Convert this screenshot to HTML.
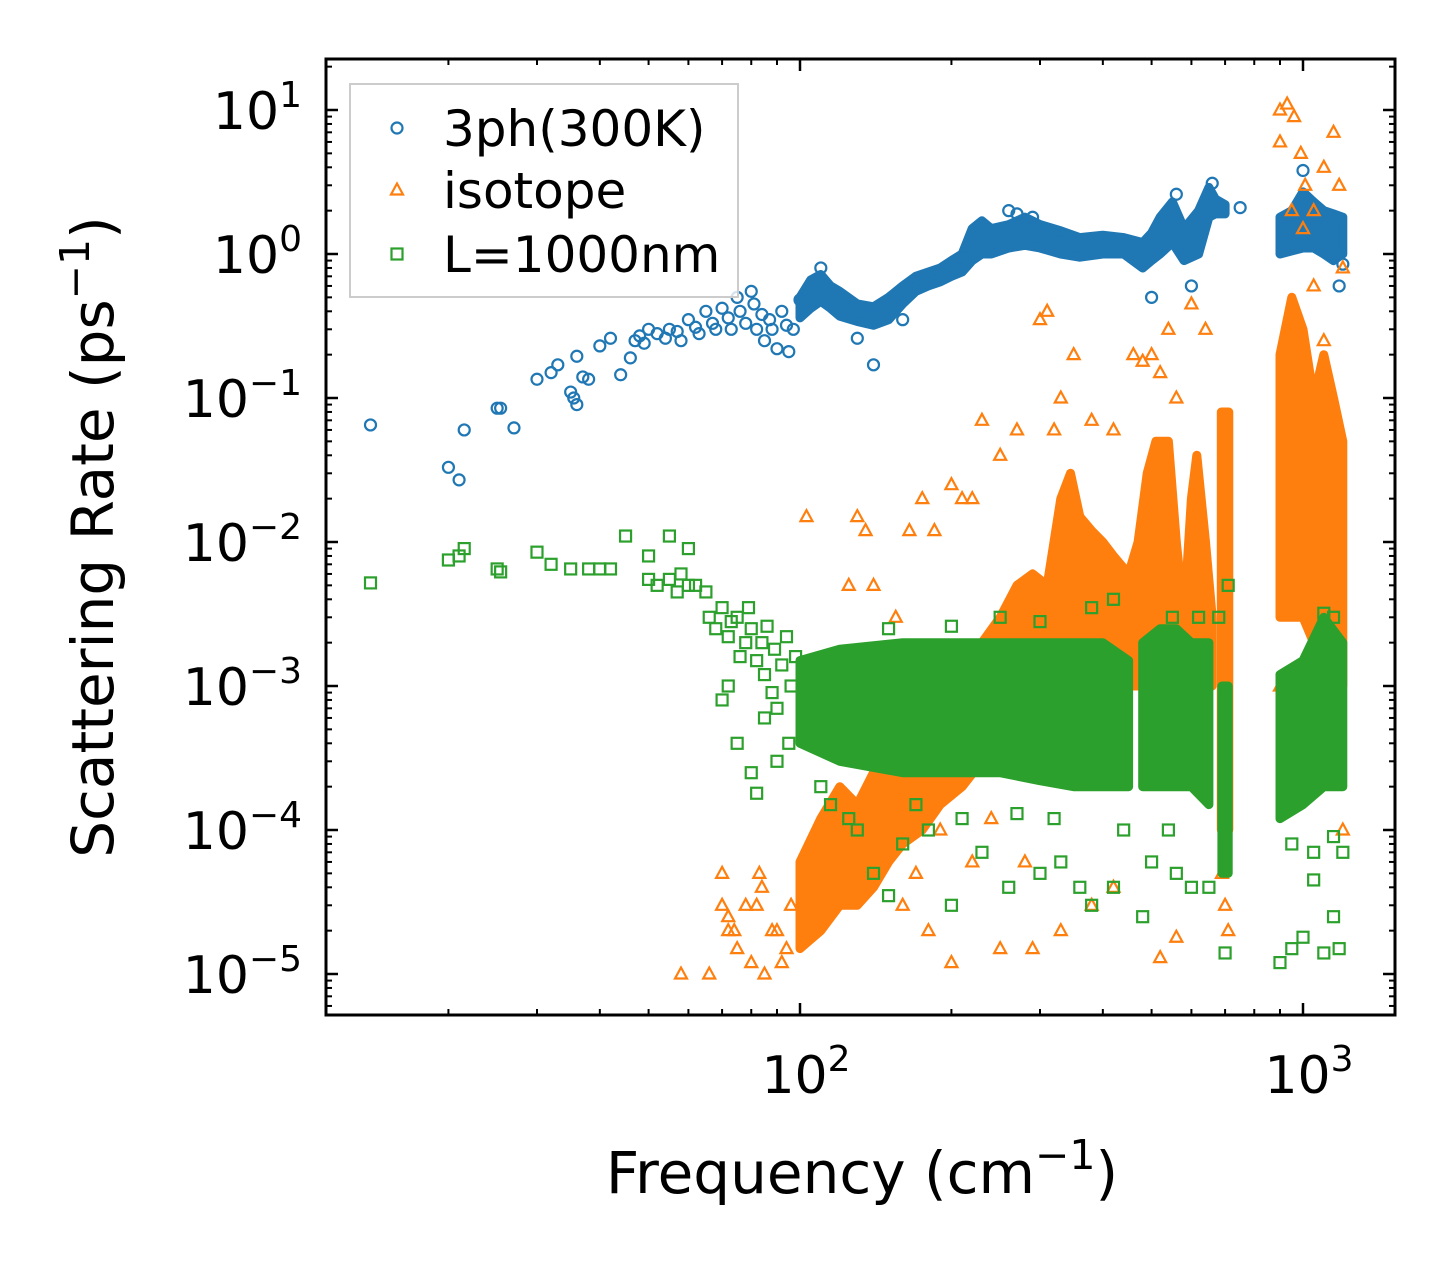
<!DOCTYPE html>
<html><head><meta charset="utf-8"><style>
html,body{margin:0;padding:0;background:#fff}
svg{display:block;font-family:"DejaVu Sans","Liberation Sans",sans-serif}
</style></head><body>
<svg id="chart" width="1455" height="1265" viewBox="0 0 1455 1265" xmlns="http://www.w3.org/2000/svg">
<rect width="1455" height="1265" fill="#fff"/>
<g id="bands"></g>
<g id="axes"></g>
<g id="legend"></g>
</svg>
<script>
const xTickPowers=[2,3];
const yTickPowers=[1,0,-1,-2,-3,-4,-5];
const blueBands=[[[100,0.36,0.5],[105,0.42,0.66],[110,0.47,0.72],[115,0.42,0.6],[120,0.37,0.55],[130,0.34,0.45],[140,0.32,0.43],[150,0.35,0.5],[160,0.45,0.6],[170,0.55,0.7],[180,0.6,0.75],[190,0.64,0.8],[200,0.7,0.9],[210,0.75,1.0],[220,0.9,1.5],[230,1.0,1.7],[240,1.0,1.5],[260,1.1,1.6],[280,1.15,1.8],[300,1.1,1.6],[330,1.0,1.45],[360,0.95,1.3],[400,1.0,1.35],[440,1.0,1.3],[480,0.8,1.2],[500,0.9,1.4],[520,1.0,1.8],[550,1.2,2.3],[580,0.9,1.5],[620,1.0,2.0],[650,1.8,2.9],[670,1.9,2.4],[700,1.9,2.2]],
[[900,1.0,1.8],[950,1.05,2.0],[1000,1.1,2.7],[1050,1.1,2.3],[1100,1.0,2.0],[1150,0.9,1.9],[1200,1.0,1.8]]];
const orangeBands=[[[100,1.5e-5,6e-5],[110,2e-5,1.2e-4],[120,3e-5,2e-4],[130,3e-5,1.5e-4],[140,4e-5,2.5e-4],[150,6e-5,3e-4],[160,8e-5,5e-4],[175,1e-4,8e-4],[190,1.5e-4,1e-3],[210,2e-4,1.5e-3],[230,3e-4,2e-3],[250,5e-4,3e-3],[270,8e-4,5e-3],[290,1e-3,6e-3],[310,1e-3,5e-3],[330,1e-3,2e-2],[345,1e-3,3e-2],[360,1e-3,1.5e-2],[380,1e-3,1.2e-2],[400,1e-3,1e-2],[420,1e-3,8e-3],[450,1e-3,6e-3],[470,1e-3,1e-2],[490,1e-3,3e-2],[510,1e-3,5e-2],[540,1e-3,5e-2],[560,1e-3,1e-2],[580,1e-3,3e-3],[600,1e-3,2e-2],[615,1e-3,4e-2],[640,1e-3,1e-2],[660,1e-3,3e-3]],
[[688,1e-4,8e-2],[712,1e-4,8e-2]],
[[900,3e-3,0.2],[950,3e-3,0.5],[1000,3e-3,0.3],[1050,2e-3,0.1],[1100,2e-3,0.2],[1150,1e-3,0.1],[1200,1e-3,0.05]]];
const greenBands=[[[100,4e-4,1.5e-3],[120,3e-4,1.8e-3],[160,2.5e-4,2e-3],[200,2.5e-4,2e-3],[250,2.5e-4,2e-3],[300,2.2e-4,2e-3],[350,2e-4,2e-3],[400,2e-4,2e-3],[450,2e-4,1.5e-3]],
[[480,2e-4,2e-3],[520,2e-4,2.5e-3],[560,2e-4,2.5e-3],[600,2e-4,2e-3],[650,1.5e-4,2e-3]],
[[690,5e-5,1e-3],[710,5e-5,1e-3]],
[[900,1.2e-4,1.2e-3],[1000,1.5e-4,1.5e-3],[1100,2e-4,3e-3],[1200,2e-4,2e-3]]];
const bluePts=[[14,0.065],[20,0.033],[21,0.027],[21.5,0.06],[25,0.085],[25.4,0.085],[27,0.062],[30,0.135],[32,0.15],[33,0.17],[35,0.11],[35.5,0.1],[36,0.09],[36,0.195],[37,0.14],[38,0.135],[40,0.23],[42,0.26],[44,0.145],[46,0.19],[47,0.25],[48,0.27],[49,0.24],[50,0.3],[52,0.28],[54,0.26],[55,0.3],[57,0.29],[58,0.25],[60,0.35],[62,0.31],[63,0.28],[65,0.4],[67,0.33],[68,0.3],[70,0.42],[72,0.36],[73,0.3],[75,0.5],[76,0.4],[78,0.33],[80,0.55],[81,0.45],[82,0.3],[84,0.38],[85,0.25],[87,0.35],[88,0.3],[90,0.22],[92,0.4],[94,0.32],[95,0.21],[97,0.3],[100,0.48],[110,0.8],[130,0.26],[140,0.17],[160,0.35],[210,0.95],[260,2.0],[270,1.9],[290,1.8],[500,0.5],[560,2.6],[600,0.6],[660,3.1],[750,2.1],[1000,3.8],[1180,0.6],[1200,0.85]];
const orangePts=[[58,1e-5],[66,1e-5],[70,5e-5],[72,2e-5],[75,1.5e-5],[78,3e-5],[80,1.2e-5],[83,5e-5],[85,1e-5],[88,2e-5],[92,1.2e-5],[96,3e-5],[70,3e-5],[72,2.5e-5],[74,2e-5],[82,3e-5],[84,4e-5],[90,2e-5],[94,1.5e-5],[103,1.5e-2],[125,5e-3],[130,1.5e-2],[135,1.2e-2],[140,5e-3],[155,3e-3],[165,1.2e-2],[175,2e-2],[185,1.2e-2],[200,2.5e-2],[210,2e-2],[220,2e-2],[230,7e-2],[250,4e-2],[270,6e-2],[300,0.35],[310,0.4],[320,6e-2],[330,0.1],[350,0.2],[380,7e-2],[420,6e-2],[460,0.2],[480,0.18],[500,0.2],[520,0.15],[540,0.3],[560,0.1],[600,0.45],[640,0.3],[690,5e-5],[700,3e-5],[710,2e-5],[560,1.8e-5],[520,1.3e-5],[420,4e-5],[380,3e-5],[330,2e-5],[290,1.5e-5],[250,1.5e-5],[200,1.2e-5],[180,2e-5],[160,3e-5],[170,5e-5],[190,1e-4],[220,6e-5],[240,1.2e-4],[280,6e-5],[900,10],[930,11],[960,9],[990,5],[1010,3],[1050,2],[1100,4],[1150,7],[1180,3],[1200,0.8],[1050,0.6],[1100,0.25],[900,6],[950,2],[1000,1.5],[1120,1e-2],[1180,5e-3],[1200,1e-4],[950,2e-4],[1050,3e-4],[900,1e-3]];
const greenPts=[[14,5.2e-3],[20,7.5e-3],[21,8e-3],[21.5,9e-3],[25,6.5e-3],[25.4,6.2e-3],[30,8.5e-3],[32,7e-3],[35,6.5e-3],[38,6.5e-3],[40,6.5e-3],[42,6.5e-3],[45,1.1e-2],[50,8e-3],[55,1.1e-2],[60,9e-3],[58,6e-3],[50,5.5e-3],[52,5e-3],[55,5.5e-3],[57,4.5e-3],[60,5e-3],[62,5e-3],[65,4.5e-3],[66,3e-3],[68,2.5e-3],[70,3.5e-3],[72,2.2e-3],[73,2.8e-3],[75,3e-3],[76,1.6e-3],[78,2e-3],[79,3.5e-3],[80,2.5e-3],[82,1.5e-3],[84,2e-3],[85,1.2e-3],[86,2.6e-3],[88,9e-4],[89,1.8e-3],[90,7e-4],[92,1.4e-3],[94,2.2e-3],[96,1e-3],[98,1.6e-3],[70,8e-4],[72,1e-3],[75,4e-4],[80,2.5e-4],[82,1.8e-4],[85,6e-4],[90,3e-4],[95,4e-4],[110,2e-4],[115,1.5e-4],[125,1.2e-4],[130,1e-4],[140,5e-5],[150,3.5e-5],[160,8e-5],[170,1.5e-4],[180,1e-4],[200,3e-5],[210,1.2e-4],[230,7e-5],[260,4e-5],[270,1.3e-4],[300,5e-5],[320,1.2e-4],[330,6e-5],[360,4e-5],[380,3e-5],[420,4e-5],[440,1e-4],[480,2.5e-5],[500,6e-5],[540,1e-4],[560,5e-5],[600,4e-5],[650,4e-5],[700,1.4e-5],[710,5e-3],[680,3e-3],[620,3e-3],[550,3e-3],[380,3.5e-3],[420,4e-3],[250,3e-3],[300,2.8e-3],[200,2.6e-3],[150,2.5e-3],[900,1.2e-5],[950,1.5e-5],[1000,1.8e-5],[1050,4.5e-5],[1100,1.4e-5],[1150,2.5e-5],[1180,1.5e-5],[1200,7e-5],[1150,3e-3],[1100,3.2e-3],[950,8e-5],[1050,7e-5],[1150,9e-5]];

const NS="http://www.w3.org/2000/svg";
const L=326,R=1395,T=59,B=1015;
function X(f){return 800+(Math.log10(f)-2)*503;}
function Y(v){return 254-Math.log10(v)*144;}
function mk(tag,attrs,parent){const e=document.createElementNS(NS,tag);for(const k in attrs)e.setAttribute(k,attrs[k]);parent.appendChild(e);return e;}
const C={blue:"#1f77b4",orange:"#ff7f0e",green:"#2ca02c"};
const bandsG=document.getElementById('bands'),axesG=document.getElementById('axes'),legG=document.getElementById('legend');

function drawBands(bands,color,name,parent){
  bands.forEach(seg=>{
    const up=seg.map(d=>X(d[0]).toFixed(1)+","+Y(d[2]).toFixed(1));
    const lo=seg.slice().reverse().map(d=>X(d[0]).toFixed(1)+","+Y(d[1]).toFixed(1));
    const p=mk('polygon',{points:up.concat(lo).join(" "),fill:color,stroke:color,'stroke-width':9,'stroke-linejoin':'round'},parent);
    
    
  });
}
function marker(type,x,y,color,parent){
  let e;
  if(type==='o'){e=mk('circle',{cx:x,cy:y,r:5.5,fill:'none',stroke:color,'stroke-width':2.2},parent);}
  else if(type==='s'){e=mk('rect',{x:x-5.5,y:y-5.5,width:11,height:11,fill:'none',stroke:color,'stroke-width':2.2},parent);}
  else {e=mk('polygon',{points:`${x},${y-6.5} ${x-6},${y+4.5} ${x+6},${y+4.5}`,fill:'none',stroke:color,'stroke-width':2.2},parent);}
  return e;
}
function drawPts(pts,type,color,name,parent){
  pts.forEach(d=>{
    const e=marker(type,X(d[0]),Y(d[1]),color,parent);
    
    
  });
}
const gB=mk('g',{},bandsG);
drawBands(blueBands,C.blue,'3ph-cluster',gB);
drawPts(bluePts,'o',C.blue,'3ph-point',gB);
const gO=mk('g',{},bandsG);
drawBands(orangeBands,C.orange,'isotope-cluster',gO);
drawPts(orangePts,'^',C.orange,'isotope-point',gO);
const gG=mk('g',{},bandsG);
drawBands(greenBands,C.green,'boundary-cluster',gG);
drawPts(greenPts,'s',C.green,'boundary-point',gG);

const fr=mk('rect',{x:L,y:T,width:R-L,height:B-T,fill:'none',stroke:'#000','stroke-width':3},axesG);

function tickLine(x1,y1,x2,y2,w){return mk('line',{x1,y1,x2,y2,stroke:'#000','stroke-width':w},axesG);}
for(let p=1;p<=3;p++){for(let m=1;m<10;m++){const f=m*Math.pow(10,p);const x=X(f);if(x<L||x>R)continue;const len=m===1?12:6,w=m===1?2.5:2;
  let t=tickLine(x,B,x,B-len,w);
  t=tickLine(x,T,x,T+len,w);}}
xTickPowers.forEach(p=>{const t=mk('text',{x:X(Math.pow(10,p))+6,y:1093,'font-size':52,'text-anchor':'middle'},axesG);
  
  t.innerHTML=`10<tspan dy="-22" font-size="36">${p}</tspan>`;});
for(let p=-6;p<=1;p++){for(let m=1;m<10;m++){const v=m*Math.pow(10,p);const y=Y(v);if(y<T||y>B)continue;const len=m===1?12:6,w=m===1?2.5:2;
  let t=tickLine(L,y,L+len,y,w);
  t=tickLine(R,y,R-len,y,w);}}
yTickPowers.forEach(p=>{const t=mk('text',{x:302,y:Y(Math.pow(10,p))+19,'font-size':52,'text-anchor':'end'},axesG);
  
  const s=p<0?'\u2212'+(-p):''+p;
  t.innerHTML=`10<tspan dy="-22" font-size="36">${s}</tspan>`;});
let xt=mk('text',{x:862,y:1193,'font-size':58,'text-anchor':'middle'},axesG);

xt.innerHTML='Frequency (cm<tspan dy="-24" font-size="41">\u22121</tspan><tspan dy="24">)</tspan>';
let yt=mk('text',{x:0,y:0,'font-size':58,'text-anchor':'middle',transform:'translate(113,537) rotate(-90)'},axesG);

yt.innerHTML='Scattering Rate (ps<tspan dy="-24" font-size="41">\u22121</tspan><tspan dy="24">)</tspan>';
const lb=mk('rect',{x:350,y:84,width:388,height:213,fill:'#fff','fill-opacity':0.8,stroke:'#ccc','stroke-width':2},legG);

[['o',C.blue,'3ph(300K)',128],['^',C.orange,'isotope',190],['s',C.green,'L=1000nm',254]].forEach(d=>{
  const g=mk('g',{},legG);
  const m=marker(d[0],397,d[3],d[1],g);
  const t=mk('text',{x:443,y:d[3]+18,'font-size':50},g);t.textContent=d[2];
  
});
</script>
</body></html>
